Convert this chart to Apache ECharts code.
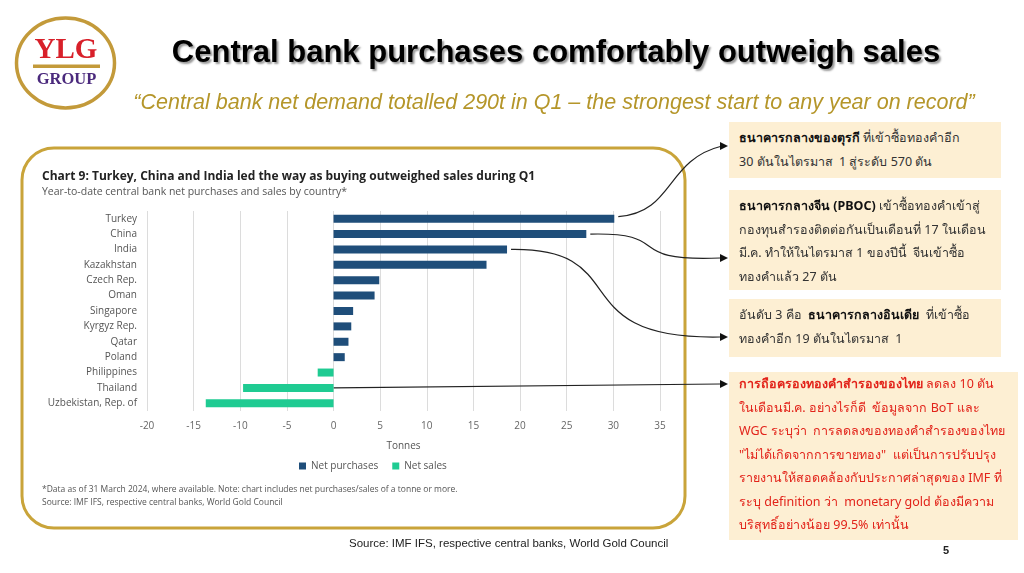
<!DOCTYPE html>
<html><head><meta charset="utf-8">
<script src="https://cdn.jsdelivr.net/npm/echarts@6/dist/echarts.min.js"></script>
<style>
html,body{margin:0;padding:0;width:1024px;height:573px;overflow:hidden;background:#fff;font-family:'Liberation Sans',Arial,sans-serif;}
#chart{position:absolute;left:0;top:0;width:1024px;height:573px;}
.abs{position:absolute;white-space:nowrap;}
.box{position:absolute;background:#fdefd3;font-family:Tahoma,'Noto Sans','DejaVu Sans',sans-serif;font-size:12.5px;color:#333;line-height:23.5px;padding:4px 10px;box-sizing:border-box;}
.box b{color:#111;}
</style></head>
<body>
<div id="chart"></div>
<script>
const categories = ['Turkey','China','India','Kazakhstan','Czech Rep.','Oman','Singapore','Kyrgyz Rep.','Qatar','Poland','Philippines','Thailand','Uzbekistan, Rep. of'];
const netValues = [30.1, 27.1, 18.6, 16.4, 4.9, 4.4, 2.1, 1.9, 1.6, 1.2, -1.7, -9.7, -13.7];
const xTicks = [-20,-15,-10,-5,0,5,10,15,20,25,30,35];
const purchases = netValues.map(v => v > 0 ? v : '-');
const sales = netValues.map(v => v < 0 ? v : '-');

const chart = echarts.init(document.getElementById('chart'));
const chartFont = "'Open Sans', sans-serif";
chart.setOption({
  animation:false,
  grid:{left:147, right:364, top:211, height:200, containLabel:false},
  legend:{
    data:['Net purchases','Net sales'], top:456, left:294, itemWidth:7, itemHeight:7, itemGap:14,
    textStyle:{fontFamily:chartFont, fontSize:10, color:'#555'}, icon:'rect'
  },
  xAxis:{
    type:'value', min:xTicks[0], max:xTicks[xTicks.length-1], interval:5,
    axisLine:{show:false}, axisTick:{show:false},
    splitLine:{lineStyle:{color:'#dcdcdc', width:1}},
    axisLabel:{fontFamily:chartFont, fontSize:10, color:'#666', margin:10},
    name:'Tonnes', nameLocation:'middle', nameGap:30,
    nameTextStyle:{fontFamily:chartFont, fontSize:10, color:'#555'}
  },
  yAxis:{
    type:'category', data:categories, inverse:true,
    axisLine:{show:false}, axisTick:{show:false},
    axisLabel:{fontFamily:chartFont, fontSize:10, color:'#555', margin:10}
  },
  series:[
    {name:'Net purchases', type:'bar', stack:'t', data:purchases, barWidth:8, itemStyle:{color:'#1f4e7a'}},
    {name:'Net sales', type:'bar', stack:'t', data:sales, barWidth:8, itemStyle:{color:'#1fcb92'}}
  ]
});

function px(v, i){ return chart.convertToPixel({gridIndex:0}, [v, categories[i]]); }
function arrow(x, y){ return {type:'polygon', shape:{points:[[x,y],[x-8,y-4],[x-8,y+4]]}, style:{fill:'#111'}, z:10}; }
const lineStyle = {stroke:'#222', lineWidth:1.2, fill:null};
const tk = px(netValues[0],0), cn = px(netValues[1],1), ind = px(netValues[2],2), th = px(0,11);
const graphics = [
  {type:'rect', shape:{x:22, y:148, width:663, height:380, r:32}, style:{fill:null, stroke:'#c9a43a', lineWidth:3}, z:0},
  {type:'ellipse', shape:{cx:65.5, cy:63, rx:49, ry:45}, style:{fill:'#fff', stroke:'#c39a3a', lineWidth:3.5}},
  {type:'text', style:{text:'YLG', x:66, y:51, align:'center', verticalAlign:'middle', font:"bold 29px 'Liberation Serif', serif", fill:'#d8202a'}},
  {type:'rect', shape:{x:33, y:64.5, width:67, height:3.5}, style:{fill:'#c39a3a'}},
  {type:'text', style:{text:'GROUP', x:66.5, y:80, align:'center', verticalAlign:'middle', font:"bold 16.5px 'Liberation Serif', serif", fill:'#4b2a7d'}},
  {type:'bezierCurve', shape:{x1:tk[0]+4, y1:tk[1]-2, cpx1:tk[0]+60, cpy1:tk[1]-6, cpx2:665, cpy2:160, x2:722, y2:146}, style:lineStyle},
  arrow(728,146),
  {type:'bezierCurve', shape:{x1:cn[0]+4, y1:cn[1], cpx1:cn[0]+90, cpy1:cn[1]-2, cpx2:620, cpy2:262, x2:720, y2:258}, style:lineStyle},
  arrow(728,258),
  {type:'bezierCurve', shape:{x1:ind[0]+4, y1:ind[1], cpx1:ind[0]+130, cpy1:ind[1]-2, cpx2:560, cpy2:340, x2:720, y2:337}, style:lineStyle},
  arrow(728,337),
  {type:'line', shape:{x1:th[0], y1:th[1], x2:720, y2:384}, style:{stroke:'#222', lineWidth:1.2}},
  arrow(728,384)
];
chart.setOption({graphic:graphics});
</script>
<div class="abs" style="left:0;width:1112px;top:34px;text-align:center;font:bold 31px 'Liberation Sans',Arial,sans-serif;color:#000;text-shadow:2px 2px 2px #999;">Central bank purchases comfortably outweigh sales</div>
<div class="abs" style="left:0;width:1108px;top:90px;text-align:center;font:italic 21.5px 'Liberation Sans',Arial,sans-serif;color:#b5962a;">“Central bank net demand totalled 290t in Q1 – the strongest start to any year on record”</div>
<div class="abs" style="left:42px;top:167px;font:bold 12px 'Open Sans',sans-serif;color:#222;">Chart 9: Turkey, China and India led the way as buying outweighed sales during Q1</div>
<div class="abs" style="left:42px;top:184px;font:10.5px 'Open Sans',sans-serif;color:#555;">Year-to-date central bank net purchases and sales by country*</div>
<div class="abs" style="left:42px;top:483px;font:8.5px 'Open Sans',sans-serif;color:#555;">*Data as of 31 March 2024, where available. Note: chart includes net purchases/sales of a tonne or more.</div>
<div class="abs" style="left:42px;top:496px;font:8.5px 'Open Sans',sans-serif;color:#555;">Source: IMF IFS, respective central banks, World Gold Council</div>
<div class="abs" style="left:349px;top:537px;font:11.5px 'Liberation Sans',Arial,sans-serif;color:#222;">Source: IMF IFS, respective central banks, World Gold Council</div>
<div class="abs" style="left:943px;top:544px;font:bold 11px 'Liberation Sans',Arial,sans-serif;color:#222;">5</div>

<div class="box" style="left:729px;top:122px;width:272px;height:56px;"><b>ธนาคารกลางของตุรกี</b> ที่เข้าซื้อทองคำอีก<br>30 ตันในไตรมาส&nbsp; 1 สู่ระดับ 570 ตัน</div>
<div class="box" style="left:729px;top:190px;width:272px;height:100px;"><b>ธนาคารกลางจีน (PBOC)</b> เข้าซื้อทองคำเข้าสู่<br>กองทุนสำรองติดต่อกันเป็นเดือนที่ 17 ในเดือน<br>มี.ค. ทำให้ในไตรมาส 1 ของปีนี้&nbsp; จีนเข้าซื้อ<br>ทองคำแล้ว 27 ตัน</div>
<div class="box" style="left:729px;top:299px;width:272px;height:58px;">อันดับ 3 คือ&nbsp; <b>ธนาคารกลางอินเดีย</b>&nbsp; ที่เข้าซื้อ<br>ทองคำอีก 19 ตันในไตรมาส&nbsp; 1</div>
<div class="box" style="left:729px;top:372px;width:289px;height:168px;color:#e2231a;padding-top:0;"><b style="color:#e2231a">การถือครองทองคำสำรองของไทย</b> ลดลง 10 ตัน<br>ในเดือนมี.ค. อย่างไรก็ดี&nbsp; ข้อมูลจาก BoT และ<br>WGC ระบุว่า&nbsp; การลดลงของทองคำสำรองของไทย<br>"ไม่ได้เกิดจากการขายทอง"&nbsp; แต่เป็นการปรับปรุง<br>รายงานให้สอดคล้องกับประกาศล่าสุดของ IMF ที่<br>ระบุ definition ว่า&nbsp; monetary gold ต้องมีความ<br>บริสุทธิ์อย่างน้อย 99.5% เท่านั้น</div>
</body></html>
